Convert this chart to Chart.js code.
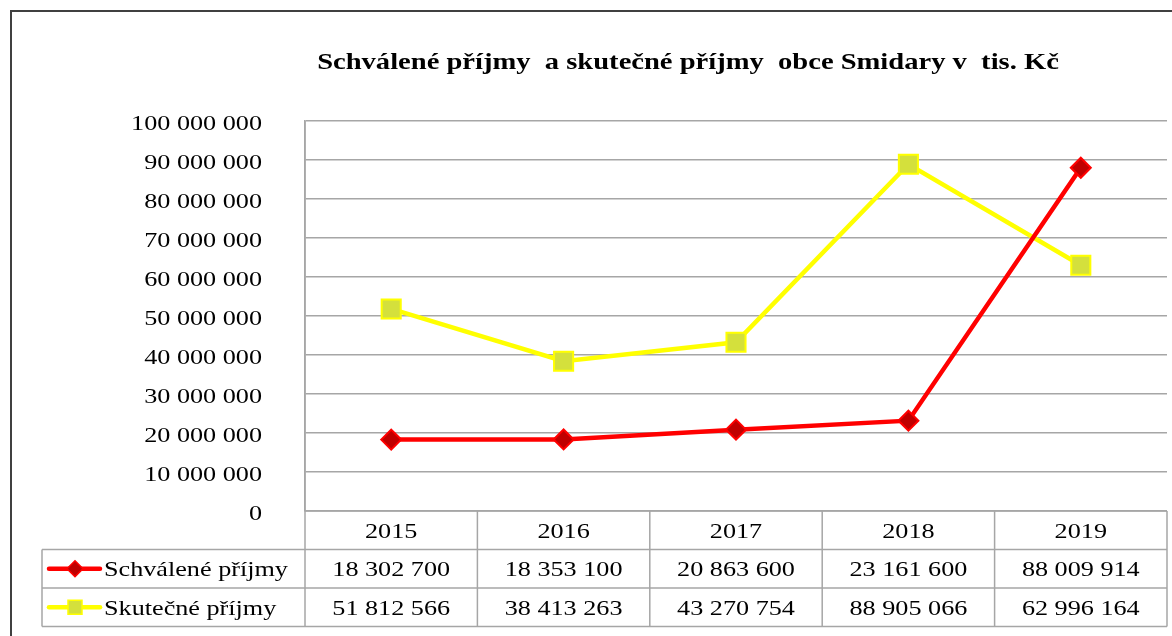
<!DOCTYPE html>
<html>
<head>
<meta charset="utf-8">
<script src="https://cdn.jsdelivr.net/npm/chart.js@4"></script>
<style>
html,body{margin:0;padding:0;background:#fff;}
#wrap{position:relative;width:1172px;height:636px;}
canvas{display:block;}
</style>
</head>
<body>
<div id="wrap"><canvas id="c" width="1172" height="636"></canvas></div>
<script>
const years = ['2015', '2016', '2017', '2018', '2019'];
const approved = [18302700, 18353100, 20863600, 23161600, 88009914];
const actual = [51812566, 38413263, 43270754, 88905066, 62996164];
const seriesNames = ['Schválené příjmy', 'Skutečné příjmy'];
const titleText = 'Schválené příjmy  a skutečné příjmy  obce Smidary v  tis. Kč';

const FONT = "'Liberation Serif', 'Times New Roman', serif";
const GRID = '#a6a6a6';
const SX = 1.19; // horizontal text widening seen in the reference
const fmt = v => String(Math.round(v)).replace(/\B(?=(\d{3})+(?!\d))/g, ' ');

const styles = [
  {line: '#ff0000', fill: '#c00000', border: '#ff0000', pt: 'rectRot', r: 10},
  {line: '#ffff00', fill: '#d4e03c', border: '#ffff00', pt: 'rect', r: 13.5}
];

const TABLE_LEFT = 42;
const ROW_H = 38.5;

const canvas = document.getElementById('c');
const c2d = canvas.getContext('2d');
const origFill = c2d.fillText;
c2d.fillText = function (t, x, y, mw) {
  this.save();
  this.translate(x, y);
  this.scale(SX, 1);
  origFill.call(this, t, 0, 0);
  this.restore();
};

const tablePlugin = {
  id: 'tablePlugin',
  afterDraw(chart) {
    const ctx = chart.ctx;
    const xs = chart.scales.x;
    const ca = chart.chartArea;
    const n = years.length;
    const step = (ca.right - ca.left) / n;
    const y0 = ca.bottom;
    const y1 = y0 + ROW_H, y2 = y1 + ROW_H, y3 = y2 + ROW_H;
    ctx.save();
    // title
    ctx.fillStyle = '#000';
    ctx.font = 'bold 24px ' + FONT;
    ctx.textAlign = 'center';
    ctx.textBaseline = 'middle';
    ctx.fillText(titleText, 688, 63);
    // frame
    ctx.strokeStyle = '#404040';
    ctx.lineWidth = 2;
    ctx.beginPath();
    ctx.moveTo(11, 640); ctx.lineTo(11, 11); ctx.lineTo(1175, 11);
    ctx.stroke();
    ctx.strokeStyle = GRID;
    ctx.lineWidth = 1.5;
    ctx.beginPath();
    ctx.moveTo(ca.left, y0); ctx.lineTo(ca.right, y0);
    [y1, y2, y3].forEach(y => { ctx.moveTo(TABLE_LEFT, y); ctx.lineTo(ca.right, y); });
    ctx.moveTo(TABLE_LEFT, y1); ctx.lineTo(TABLE_LEFT, y3);
    for (let i = 0; i <= n; i++) {
      const x = ca.left + i * step;
      ctx.moveTo(x, i === 0 ? ca.top : y0); ctx.lineTo(x, y3);
    }
    ctx.stroke();
    const rows = [approved, actual];
    ctx.font = '22px ' + FONT;
    ctx.textBaseline = 'middle';
    rows.forEach((arr, r) => {
      const yc = y1 + ROW_H * r + ROW_H / 2;
      const s = styles[r];
      ctx.strokeStyle = s.line; ctx.lineWidth = 4.5; ctx.lineCap = 'round';
      ctx.beginPath(); ctx.moveTo(49, yc); ctx.lineTo(100, yc); ctx.stroke();
      ctx.fillStyle = s.fill; ctx.strokeStyle = s.border; ctx.lineWidth = 1.5;
      if (s.pt === 'rectRot') {
        ctx.beginPath();
        ctx.moveTo(75, yc - 8); ctx.lineTo(83, yc); ctx.lineTo(75, yc + 8); ctx.lineTo(67, yc); ctx.closePath();
        ctx.fill(); ctx.stroke();
      } else {
        ctx.fillRect(68, yc - 7, 14, 14); ctx.strokeRect(68, yc - 7, 14, 14);
      }
      ctx.fillStyle = '#000';
      ctx.textAlign = 'left';
      ctx.fillText(seriesNames[r], 104, yc + 1.5);
      ctx.textAlign = 'center';
      arr.forEach((v, i) => {
        ctx.fillText(fmt(v), xs.getPixelForValue(i), yc + 1.5);
      });
    });
    ctx.restore();
  }
};

new Chart(canvas, {
  type: 'line',
  data: {
    labels: years,
    datasets: [approved, actual].map((d, i) => ({
      label: seriesNames[i],
      data: d,
      borderColor: styles[i].line,
      borderWidth: 4.5,
      backgroundColor: styles[i].fill,
      pointBackgroundColor: styles[i].fill,
      pointBorderColor: styles[i].border,
      pointBorderWidth: 2,
      pointStyle: styles[i].pt,
      pointRadius: styles[i].r,
      pointHoverRadius: styles[i].r,
      tension: 0,
      clip: false
    }))
  },
  options: {
    responsive: false,
    animation: false,
    devicePixelRatio: 1,
    layout: {autoPadding: false, padding: {left: 0, right: 5, top: 121, bottom: 86}},
    plugins: {
      legend: {display: false},
      tooltip: {enabled: false},
      title: {display: false}
    },
    scales: {
      x: {
        offset: true,
        grid: {display: false, drawTicks: false},
        border: {display: false},
        ticks: {color: '#000', font: {family: FONT, size: 22}, padding: 8, maxRotation: 0},
        afterFit(s) { s.height = 39; }
      },
      y: {
        min: 0, max: 100000000,
        grid: {color: GRID, lineWidth: 1.5, drawTicks: false},
        border: {display: true, color: GRID, width: 1.5},
        ticks: {stepSize: 10000000, color: '#000', font: {family: FONT, size: 22}, padding: 43, labelOffset: 3, callback: v => fmt(v)},
        afterFit(s) { s.width = 305; }
      }
    }
  },
  plugins: [tablePlugin]
});
</script>
</body>
</html>
